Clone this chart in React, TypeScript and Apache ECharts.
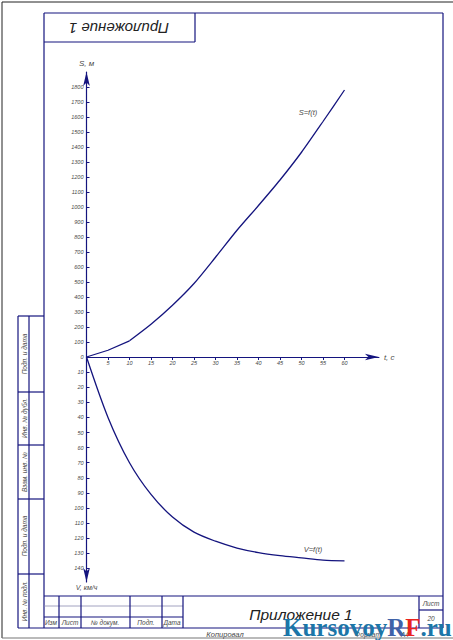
import React, { useEffect, useRef } from "react";
import * as echarts from "echarts";

const timeTicks = [5, 10, 15, 20, 25, 30, 35, 40, 45, 50, 55, 60];
const distanceTicks = [0, 100, 200, 300, 400, 500, 600, 700, 800, 900, 1000, 1100, 1200, 1300, 1400, 1500, 1600, 1700, 1800];
const speedTicks = [10, 20, 30, 40, 50, 60, 70, 80, 90, 100, 110, 120, 130, 140];
const timeValues = [0, 5, 10];
const distanceValues = [0, 45, 108];
const laterTimeValues = [10, 15, 20, 25, 30, 35, 40, 45, 50, 55, 60];
const laterDistanceValues = [108, 218, 345, 490, 665, 845, 1010, 1180, 1365, 1570, 1780];
const speedTimeValues = [0, 5, 10, 15, 20, 25, 30, 35, 40, 45, 50, 55, 60];
const speedValues = [0, 40, 70, 91, 106, 116, 122, 126.5, 129.5, 131.5, 133, 134.5, 135];

const INK = "#14147e";
const TXT = "#4a4a4a";
const ITALIC = { fontFamily: "Liberation Sans", fontStyle: "italic" as const };

const ln = (x1: number, y1: number, x2: number, y2: number, stroke = INK, lineWidth = 1.2) => ({
  type: "line", silent: true, shape: { x1, y1, x2, y2 }, style: { stroke, lineWidth },
});
const tx = (text: string, x: number, y: number, fontSize: number, rotation = 0, fill = TXT) => ({
  type: "text", silent: true, x, y, rotation,
  style: { text, fontSize, fill, align: "center", verticalAlign: "middle", ...ITALIC },
});

const frame = [
  ln(2, 2, 453, 2, "#222", 1), ln(2, 2, 2, 638, "#222", 1), ln(2, 638, 453, 638, "#777", 1.2),
  ln(44, 13, 443, 13), ln(443, 13, 443, 628), ln(44, 13, 44, 628), ln(18, 628, 443, 628),
  ln(44, 42, 195, 42), ln(195, 13, 195, 42),
  ln(44, 596, 443, 596), ln(44, 606, 183, 606, "#8a8ab0", 0.8), ln(44, 617, 183, 617),
  ln(59, 596, 59, 628), ln(81, 596, 81, 628), ln(130, 596, 130, 628), ln(162, 596, 162, 628), ln(183, 596, 183, 628),
  ln(419, 596, 419, 628), ln(419, 610, 443, 610),
  ln(18, 316, 44, 316), ln(18, 316, 18, 628), ln(29, 316, 29, 628),
  ln(18, 392, 44, 392), ln(18, 445, 44, 445), ln(18, 499, 44, 499), ln(18, 574, 44, 574),
];

const labels = [
  tx("Приложение 1", 119, 28, 15, Math.PI, "#222"),
  tx("Приложение 1", 301, 614, 15.5, 0, "#222"),
  tx("Подп. и дата", 24, 354, 6.5, Math.PI / 2),
  tx("Инв. № дубл.", 24, 418, 6.5, Math.PI / 2),
  tx("Взам. инв. №", 24, 472, 6.5, Math.PI / 2),
  tx("Подп. и дата", 24, 536, 6.5, Math.PI / 2),
  tx("Инв. № подл.", 24, 601, 6.5, Math.PI / 2),
  tx("Изм", 51, 622, 6.5), tx("Лист", 70, 622, 6.5), tx("№ докум.", 105, 622, 6.5),
  tx("Подп.", 146, 622, 6.5), tx("Дата", 172, 622, 6.5),
  tx("Лист", 431, 603, 6.5), tx("20", 431, 618, 6.5),
  tx("Копировал", 225, 634, 7.5), tx("Формат", 368, 634, 6.5), tx("А4", 405, 634, 6.5),
  tx("S=f(t)", 308, 112, 7.5), tx("V=f(t)", 313, 549, 7.5),
  {
    type: "text", silent: true, x: 283, y: 627,
    style: {
      text: "{a|Kursovoy}{b|R}{c|F}{a|.ru}", verticalAlign: "middle", align: "left",
      rich: {
        a: { fontFamily: "Liberation Serif", fontWeight: "bold", fontSize: 25, fill: "#1c76a8" },
        b: { fontFamily: "Liberation Serif", fontWeight: "bold", fontSize: 25, fill: "#3f62a8" },
        c: { fontFamily: "Liberation Serif", fontWeight: "bold", fontSize: 25, fill: "#e8231f" },
      },
    },
  },
];

const tickLabel = { color: TXT, fontSize: 5.5, formatter: (v: number) => String(v), ...ITALIC };

export default function App() {
  const ref = useRef<HTMLDivElement>(null);
  useEffect(() => {
    const chart = echarts.init(ref.current!, null, { renderer: "svg" });
    chart.setOption({
      animation: false,
      backgroundColor: "#ffffff",
      grid: [
        { left: 86.5, top: 72, width: 292.4, height: 285 },
        { left: 86.5, top: 357, width: 292.4, height: 225 },
      ],
      xAxis: [
        {
          type: "value", gridIndex: 0, min: 0, max: 68, splitLine: { show: false },
          axisLine: { onZero: false, symbol: ["none", "arrow"], symbolSize: [5, 14], lineStyle: { color: INK, width: 1.2 } },
          axisTick: { customValues: timeTicks, length: 3, lineStyle: { color: INK } },
          axisLabel: { customValues: timeTicks, margin: 3, ...tickLabel },
          name: "t, с", nameLocation: "end", nameGap: 5,
          nameTextStyle: { color: TXT, fontSize: 8, ...ITALIC },
        },
        { type: "value", gridIndex: 1, min: 0, max: 68, show: false },
      ],
      yAxis: [
        {
          type: "value", gridIndex: 0, min: 0, max: 1900, splitLine: { show: false },
          axisLine: { onZero: false, symbol: ["none", "arrow"], symbolSize: [5, 14], lineStyle: { color: INK, width: 1.2 } },
          axisTick: { customValues: distanceTicks.slice(1), inside: true, length: 3, lineStyle: { color: INK } },
          axisLabel: { customValues: distanceTicks, margin: 3, ...tickLabel },
          name: "S, м", nameLocation: "end", nameGap: 5,
          nameTextStyle: { color: TXT, fontSize: 8, ...ITALIC },
        },
        {
          type: "value", gridIndex: 1, min: 0, max: 149, inverse: true, splitLine: { show: false },
          axisLine: { onZero: false, symbol: ["arrow", "none"], symbolSize: [5, 14], lineStyle: { color: INK, width: 1.2 } },
          axisTick: { customValues: speedTicks, inside: true, length: 3, lineStyle: { color: INK } },
          axisLabel: { customValues: speedTicks, margin: 3, ...tickLabel },
          name: "V, км/ч", nameLocation: "end", nameGap: 2,
          nameTextStyle: { color: TXT, fontSize: 7, ...ITALIC },
        },
      ],
      series: [
        {
          type: "line", xAxisIndex: 0, yAxisIndex: 0, symbol: "none", clip: false,
          data: timeValues.map((t, i) => [t, distanceValues[i]]),
          lineStyle: { color: INK, width: 1.3 },
        },
        {
          type: "line", xAxisIndex: 0, yAxisIndex: 0, symbol: "none", clip: false, smooth: 0.25,
          data: laterTimeValues.map((t, i) => [t, laterDistanceValues[i]]),
          lineStyle: { color: INK, width: 1.3 },
        },
        {
          type: "line", xAxisIndex: 1, yAxisIndex: 1, symbol: "none", clip: false, smooth: 0.3,
          data: speedTimeValues.map((t, i) => [t, speedValues[i]]),
          lineStyle: { color: INK, width: 1.3 },
        },
      ],
      graphic: [...frame, ...labels],
    });
    return () => chart.dispose();
  }, []);
  return <div ref={ref} style={{ position: "absolute", left: 0, top: 0, width: 453, height: 640 }} />;
}
